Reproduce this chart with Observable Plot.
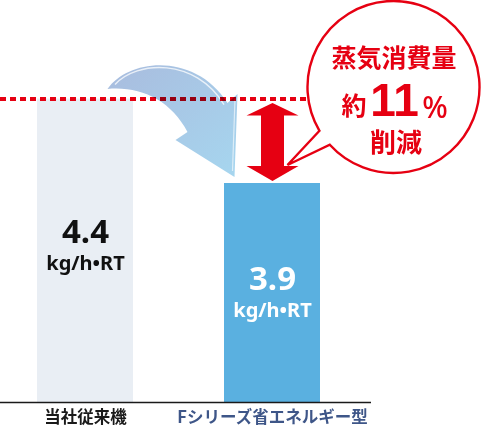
<!DOCTYPE html>
<html>
<head>
<meta charset="utf-8">
<script src="https://cdn.jsdelivr.net/npm/d3@7"></script>
<script src="https://cdn.jsdelivr.net/npm/@observablehq/plot@0.6"></script>
<style>
  html, body { margin: 0; padding: 0; background: #fff; }
  #chart svg { display: block; }
</style>
</head>
<body>
<div id="chart"></div>
<script>
// ---- data ----
const categories = ["当社従来機", "Fシリーズ省エネルギー型"];
const steamValues = [4.4, 3.9];
const valueLabels = ["4.4", "3.9"];
const unitLabel = "kg/h•RT";
const calloutTitle = "蒸気消費量";
const calloutPrefix = "約";
const calloutNumber = "11";
const calloutPercent = "%";
const calloutSuffix = "削減";

// ---- styling ----
const barColors = ["#e9eef4", "#5ab0e0"];
const valueTextColors = ["#111111", "#ffffff"];
const categoryTextColors = ["#1a1a1a", "#3e5688"];
const red = "#e60012";
const yBase = 2.604, yTop = 4.983;

const data = categories.map((c, i) => ({cat: c, value: steamValues[i], label: valueLabels[i], i}));

function bandCenter(x, v) {
  return x(v) + (x.bandwidth ? x.bandwidth() / 2 : 0);
}

// curved light-blue arrow from old bar to new bar
function blueArrow(index, scales) {
  const cx1 = bandCenter(scales.x, categories[0]);
  const cx2 = bandCenter(scales.x, categories[1]);
  const yA = scales.y(steamValues[0]);
  const yB = scales.y(steamValues[1]);
  const P = (ox, oy, dx, dy) => `${ox + dx},${oy + dy}`;
  const g = d3.create("svg:g").style("mix-blend-mode", "multiply");
  const grad = g.append("defs").append("linearGradient")
    .attr("id", "arrowGrad").attr("x1", "0%").attr("y1", "0%").attr("x2", "100%").attr("y2", "100%");
  grad.append("stop").attr("offset", "0%").attr("stop-color", "#a9bcde");
  grad.append("stop").attr("offset", "100%").attr("stop-color", "#a6d6ef");
  const d = `M${P(cx1, yA, 22.5, -9.5)}`
    + ` C${P(cx1, yA, 43.5, -40.5)} ${P(cx1, yA, 110.5, -46.5)} ${P(cx1, yA, 142.5, 4.5)}`
    + ` L${P(cx2, yA, -34.5, -4.5)}`
    + ` L${P(cx2, yB, -37.5, -6)}`
    + ` L${P(cx2, yB, -96.5, -43)}`
    + ` L${P(cx2, yB, -84.5, -51)}`
    + ` C${P(cx1, yA, 85.5, 1.5)} ${P(cx1, yA, 55.5, -12.5)} ${P(cx1, yA, 22.5, -9.5)} Z`;
  g.append("path").attr("d", d).attr("fill", "url(#arrowGrad)");
  g.append("path")
    .attr("d", `M${P(cx1, yA, 30, -14)} C${P(cx1, yA, 52, -38)} ${P(cx1, yA, 110, -41)} ${P(cx1, yA, 139, 6)}`)
    .attr("fill", "none").attr("stroke", "#ffffff").attr("stroke-opacity", 0.75).attr("stroke-width", 1.4);
  g.append("path")
    .attr("d", `M${P(cx2, yA, -37, 0)} L${P(cx2, yB, -39.5, -12)}`)
    .attr("fill", "none").attr("stroke", "#ffffff").attr("stroke-opacity", 0.6).attr("stroke-width", 1.2);
  return g.node();
}

// red double arrow showing the difference
function redArrow(index, scales) {
  const cx = bandCenter(scales.x, categories[1]) + 0.5;
  const yT = scales.y(steamValues[0]) + 4.5;
  const yB = scales.y(steamValues[1]) - 2;
  const hw = 26, sw = 11.5, hT = 12.5, hB = 15;
  const d = `M${cx},${yT} L${cx + hw},${yT + hT} L${cx + sw},${yT + hT} L${cx + sw},${yB - hB}`
    + ` L${cx + hw},${yB - hB} L${cx},${yB} L${cx - hw},${yB - hB} L${cx - sw},${yB - hB}`
    + ` L${cx - sw},${yT + hT} L${cx - hw},${yT + hT} Z`;
  const g = d3.create("svg:g");
  g.append("path").attr("d", d).attr("fill", red);
  return g.node();
}

// speech bubble
function bubble(index, scales) {
  const cx2 = bandCenter(scales.x, categories[1]);
  const yA = scales.y(steamValues[0]);
  const yB = scales.y(steamValues[1]);
  const cx = cx2 + 121.5, cy = yA - 11.5, r = 86;
  const a1 = 149.4 * Math.PI / 180, a2 = 137.8 * Math.PI / 180;
  const p1 = [cx + r * Math.cos(a1), cy + r * Math.sin(a1)];
  const p2 = [cx + r * Math.cos(a2), cy + r * Math.sin(a2)];
  const tip = [cx2 + 15.5, yB - 18];
  const d = `M${p1} L${tip} L${p2} A${r},${r} 0 1 0 ${p1} Z`;
  const g = d3.create("svg:g");
  g.append("path").attr("d", d).attr("fill", "#fff").attr("stroke", red)
    .attr("stroke-width", 2.4).attr("stroke-linejoin", "miter");
  return g.node();
}

const bubbleAnchor = [{cat: categories[1], value: steamValues[0]}];
const numY = d => d.value - 0.44 * (d.value - yBase);
const latin = "'Noto Sans', 'Noto Sans CJK JP', sans-serif";

const chart = Plot.plot({
  width: 481,
  height: 430,
  marginLeft: 0,
  marginRight: 110,
  marginTop: 0,
  marginBottom: 28,
  x: {domain: categories, paddingInner: 0.484, paddingOuter: 0.229, align: 0.419, axis: null},
  y: {domain: [yBase, yTop], axis: null},
  style: {fontFamily: "'Noto Sans CJK JP', 'Noto Sans', sans-serif", background: "#fff", overflow: "visible"},
  marks: [
    Plot.barY(data, {x: "cat", y1: yBase, y2: "value", fill: d => barColors[d.i]}),
    Plot.ruleY([yBase], {stroke: "#1a1a1a", strokeWidth: 1.6}),
    Plot.ruleY([steamValues[0]], {stroke: red, strokeWidth: 4, strokeDasharray: "6,4"}),
    blueArrow,
    redArrow,
    bubble,
    Plot.text(data, {x: "cat", y: numY, text: "label", fill: d => valueTextColors[d.i], fontSize: 33, fontWeight: 700, fontFamily: latin}),
    Plot.text(data, {x: "cat", y: numY, dy: 31, text: () => unitLabel, fill: d => valueTextColors[d.i], fontSize: 20, fontWeight: 700, fontFamily: latin}),
    Plot.text(data, {x: "cat", y: yBase, dy: 15, text: "cat", fill: d => categoryTextColors[d.i], fontSize: 16.5, fontWeight: 700}),
    Plot.text(bubbleAnchor, {x: "cat", y: "value", dx: 121.5, dy: -40, text: () => calloutTitle, fill: red, fontSize: 25, fontWeight: 700}),
    Plot.text(bubbleAnchor, {x: "cat", y: "value", dx: 81.5, dy: 8, text: () => calloutPrefix, fill: red, fontSize: 25, fontWeight: 700}),
    Plot.text(bubbleAnchor, {x: "cat", y: "value", dx: 122, dy: 2.5, text: () => calloutNumber, fill: red, fontSize: 46, fontWeight: 700, fontFamily: "'Liberation Sans', Arial, sans-serif", letterSpacing: 1}),
    Plot.text(bubbleAnchor, {x: "cat", y: "value", dx: 162.5, dy: 9, text: () => calloutPercent, fill: red, fontSize: 30, fontWeight: 500, fontFamily: latin}),
    Plot.text(bubbleAnchor, {x: "cat", y: "value", dx: 123.5, dy: 45, text: () => calloutSuffix, fill: red, fontSize: 26, fontWeight: 700})
  ]
});
document.getElementById("chart").appendChild(chart);
</script>
</body>
</html>
